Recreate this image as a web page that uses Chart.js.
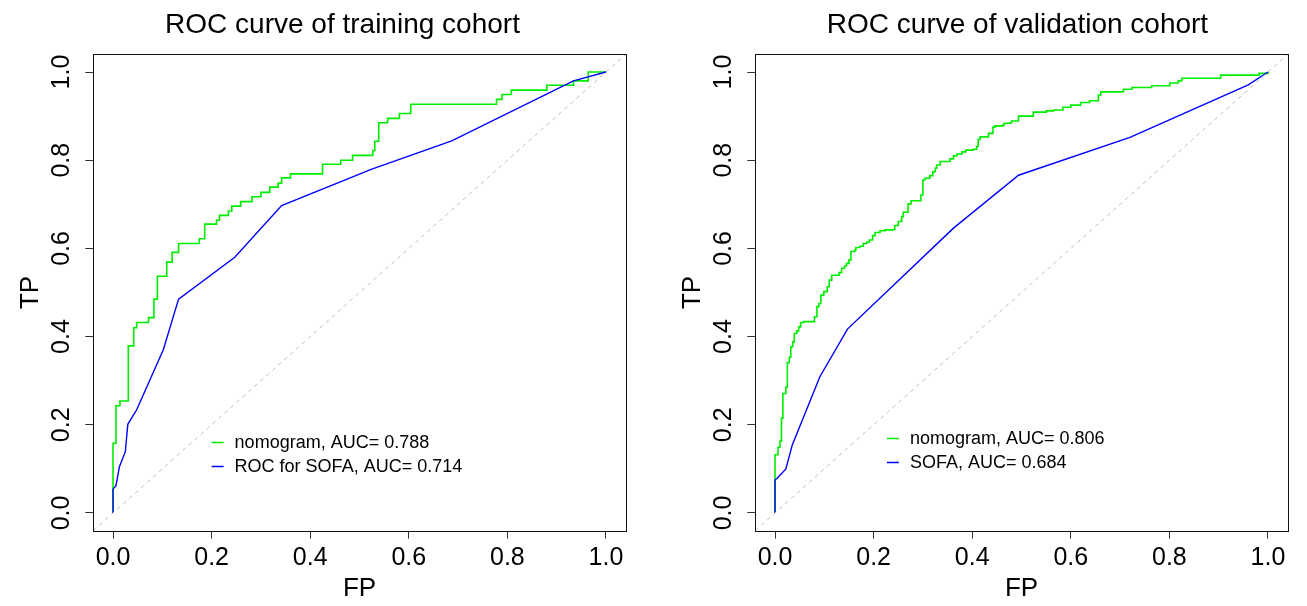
<!DOCTYPE html>
<html>
<head>
<meta charset="utf-8">
<script src="https://cdn.jsdelivr.net/npm/chart.js@4.4.1/dist/chart.umd.min.js"></script>
<style>
  body { margin: 0; background: #fff; }
  .panel { position: absolute; top: 0; width: 645px; height: 606px; }
</style>
</head>
<body>
<div class="panel" style="left:0"><canvas id="trainCanvas" width="645" height="606"></canvas></div>
<div class="panel" style="left:662px"><canvas id="validCanvas" width="645" height="606"></canvas></div>
<script>
const tickValues = [0, 0.2, 0.4, 0.6, 0.8, 1.0];
const tickLabels = ["0.0", "0.2", "0.4", "0.6", "0.8", "1.0"];
const axisRange = [-0.04, 1.04];

// training cohort
const trainNomFP = [0, 0, 0.006, 0.014, 0.031, 0.042, 0.048, 0.072, 0.083, 0.090, 0.109, 0.120, 0.133, 0.175,
  0.186, 0.210, 0.216, 0.234, 0.241, 0.259, 0.282, 0.300, 0.318, 0.335, 0.342, 0.360, 0.425, 0.462, 0.486,
  0.527, 0.531, 0.539, 0.557, 0.581, 0.604, 0.778, 0.789, 0.808, 0.880, 0.934, 0.964, 1.0];
const trainNomTP = [0, 0.158, 0.243, 0.254, 0.379, 0.420, 0.432, 0.443, 0.485, 0.537, 0.569, 0.591, 0.611, 0.622,
  0.655, 0.664, 0.675, 0.685, 0.696, 0.706, 0.717, 0.727, 0.739, 0.748, 0.760, 0.769, 0.791, 0.800, 0.811,
  0.822, 0.843, 0.885, 0.895, 0.906, 0.927, 0.938, 0.949, 0.959, 0.970, 0.980, 1.0, 1.0];
const trainSofaFP = [0, 0, 0.006, 0.013, 0.025, 0.030, 0.048, 0.102, 0.133, 0.247, 0.342, 0.525, 0.687, 0.934, 1.0];
const trainSofaTP = [0, 0.054, 0.062, 0.105, 0.139, 0.201, 0.234, 0.370, 0.485, 0.580, 0.697, 0.780, 0.844, 0.980, 1.0];
const trainLegend = ["nomogram, AUC= 0.788", "ROC for SOFA, AUC= 0.714"];

// validation cohort
const validNomFP = [0, 0, 0.006, 0.010, 0.013, 0.016, 0.022, 0.025, 0.029, 0.032,
  0.036, 0.039, 0.044, 0.048, 0.052, 0.058, 0.080, 0.085, 0.089, 0.093,
  0.099, 0.106, 0.110, 0.115, 0.130, 0.135, 0.141, 0.145, 0.150, 0.154,
  0.162, 0.164, 0.172, 0.179, 0.186, 0.191, 0.198, 0.203, 0.213, 0.223,
  0.240, 0.243, 0.250, 0.257, 0.260, 0.270, 0.276, 0.296, 0.300, 0.304,
  0.314, 0.320, 0.325, 0.328, 0.335, 0.355, 0.362, 0.369, 0.379, 0.387,
  0.402, 0.409, 0.412, 0.416, 0.433, 0.442, 0.446, 0.462, 0.465, 0.477,
  0.480, 0.494, 0.524, 0.550, 0.565, 0.584, 0.600, 0.620, 0.638, 0.656,
  0.661, 0.705, 0.707, 0.724, 0.764, 0.801, 0.818, 0.825, 0.904, 0.982, 1.0];
const validNomTP = [0, 0.132, 0.149, 0.163, 0.215, 0.271, 0.285, 0.341, 0.353, 0.377,
  0.388, 0.407, 0.413, 0.422, 0.432, 0.434, 0.445, 0.468, 0.475, 0.494,
  0.502, 0.513, 0.528, 0.539, 0.545, 0.555, 0.560, 0.566, 0.574, 0.593,
  0.596, 0.602, 0.605, 0.611, 0.614, 0.619, 0.629, 0.636, 0.640, 0.642,
  0.643, 0.652, 0.661, 0.672, 0.682, 0.701, 0.708, 0.721, 0.755, 0.759,
  0.765, 0.774, 0.782, 0.789, 0.797, 0.803, 0.810, 0.814, 0.819, 0.823,
  0.825, 0.831, 0.847, 0.853, 0.861, 0.875, 0.878, 0.880, 0.884, 0.885,
  0.889, 0.900, 0.909, 0.912, 0.914, 0.920, 0.925, 0.931, 0.935, 0.948,
  0.955, 0.956, 0.961, 0.965, 0.969, 0.975, 0.980, 0.986, 0.993, 0.997, 1.0];
const validSofaFP = [0, 0, 0.004, 0.022, 0.035, 0.091, 0.147, 0.362, 0.494, 0.720, 0.960, 1.0];
const validSofaTP = [0, 0.075, 0.078, 0.100, 0.154, 0.309, 0.417, 0.646, 0.766, 0.852, 0.971, 1.0];
const validLegend = ["nomogram, AUC= 0.806", "SOFA, AUC= 0.684"];

Chart.defaults.font.family = '"Liberation Sans", Arial, Helvetica, sans-serif';
Chart.defaults.color = "#000";

function toPoints(xs, ys) {
  return xs.map((x, i) => ({ x: x, y: ys[i] }));
}

// R-like decorations: box, main title and a box-less legend
const rStylePlugin = {
  id: "rStyle",
  afterDraw(chart, args, opts) {
    const ctx = chart.ctx;
    const area = chart.chartArea;
    ctx.save();
    ctx.strokeStyle = "#111";
    ctx.lineWidth = 1;
    const l = Math.round(area.left), t = Math.round(area.top);
    const r = Math.round(area.right), b = Math.round(area.bottom);
    ctx.strokeRect(l + 0.5, t + 0.5, r - l, b - t);

    ctx.fillStyle = "#000";
    ctx.font = '28px "Liberation Sans", Arial, sans-serif';
    ctx.textAlign = "center";
    ctx.textBaseline = "alphabetic";
    ctx.fillText(opts.title, opts.titleX, 33);

    const xPix = chart.scales.x.getPixelForValue(opts.legendX);
    let yPix = chart.scales.y.getPixelForValue(opts.legendY);
    ctx.font = '18px "Liberation Sans", Arial, sans-serif';
    ctx.textAlign = "left";
    ctx.textBaseline = "middle";
    chart.data.datasets.forEach((ds) => {
      if (!ds.inLegend) return;
      ctx.strokeStyle = ds.borderColor;
      ctx.lineWidth = 1.5;
      ctx.beginPath();
      ctx.moveTo(xPix, Math.round(yPix) + 0.5);
      ctx.lineTo(xPix + 12, Math.round(yPix) + 0.5);
      ctx.stroke();
      ctx.fillText(ds.label, xPix + 23, yPix + 1);
      yPix += 24;
    });
    ctx.restore();
  },
};

function setTicks(scale) {
  scale.ticks = tickValues.map((v) => ({ value: v }));
}

function makePlot(canvasName, panel) {
  // nomogram first (legend order), SOFA drawn on top of it
  const datasets = [
    {
      label: panel.legend[0],
      inLegend: true,
      data: toPoints(panel.nomFP, panel.nomTP),
      borderColor: "#00ee00",
      borderWidth: 1.6,
      stepped: "before", // across first, then up
      order: 2,
    },
    {
      label: panel.legend[1],
      inLegend: true,
      data: toPoints(panel.sofaFP, panel.sofaTP),
      borderColor: "#0000ff",
      borderWidth: 1.4,
      order: 1,
    },
    {
      label: "reference",
      data: toPoints(axisRange, axisRange),
      borderColor: "#bebebe",
      borderWidth: 1,
      borderDash: [4, 4],
      order: 0,
    },
  ];

  const config = {
    type: "scatter",
    data: { datasets: datasets },
    options: {
      responsive: false,
      animation: false,
      events: [],
      showLine: true,
      elements: { point: { radius: 0 }, line: { tension: 0 } },
      layout: { padding: { left: 0, right: 19.3, top: 54.4, bottom: 0 } },
      plugins: {
        legend: { display: false },
        tooltip: { enabled: false },
        title: { display: false },
        rStyle: {
          title: panel.title,
          titleX: panel.titleX,
          legendX: panel.legendX,
          legendY: panel.legendY,
        },
      },
      scales: {
        x: {
          type: "linear",
          min: axisRange[0],
          max: axisRange[1],
          afterBuildTicks: setTicks,
          afterFit: (scale) => {
            scale.height = 75.4;
            scale.paddingLeft = 0;
            scale.paddingRight = 0;
          },
          ticks: {
            autoSkip: false,
            maxRotation: 0,
            padding: 5,
            font: { size: 25 },
            callback: (v, i) => tickLabels[i],
          },
          grid: { drawOnChartArea: false, drawTicks: true, tickLength: 8, color: "#333" },
          border: { display: false },
          title: { display: true, text: "FP", font: { size: 26 }, padding: { top: 0, bottom: 1.4 } },
        },
        y: {
          type: "linear",
          min: axisRange[0],
          max: axisRange[1],
          afterBuildTicks: setTicks,
          afterFit: (scale) => {
            scale.width = 93.3;
            scale.paddingTop = 0;
            scale.paddingBottom = 0;
          },
          ticks: {
            autoSkip: false,
            minRotation: 90,
            maxRotation: 90,
            crossAlign: "center",
            padding: 6,
            font: { size: 25 },
            callback: (v, i) => tickLabels[i],
          },
          grid: { drawOnChartArea: false, drawTicks: true, tickLength: 8, color: "#333" },
          border: { display: false },
          title: { display: true, text: "TP", font: { size: 26 }, padding: { top: 15, bottom: 0 } },
        },
      },
    },
    plugins: [rStylePlugin],
  };
  new Chart(document.getElementById(canvasName), config);
}

makePlot("trainCanvas", {
  title: "ROC curve of training cohort",
  titleX: 342.5,
  nomFP: trainNomFP,
  nomTP: trainNomTP,
  sofaFP: trainSofaFP,
  sofaTP: trainSofaTP,
  legend: trainLegend,
  legendX: 0.2,
  legendY: 0.161,
});

makePlot("validCanvas", {
  title: "ROC curve of validation cohort",
  titleX: 355.5,
  nomFP: validNomFP,
  nomTP: validNomTP,
  sofaFP: validSofaFP,
  sofaTP: validSofaTP,
  legend: validLegend,
  legendX: 0.227,
  legendY: 0.169,
});
</script>
</body>
</html>
